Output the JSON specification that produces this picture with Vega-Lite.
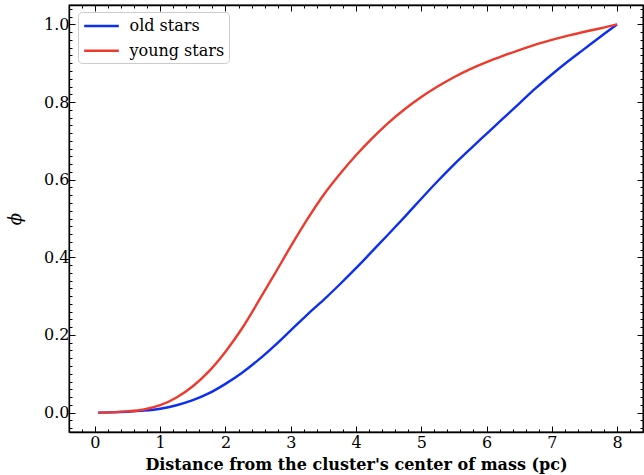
{
  "$schema": "https://vega.github.io/schema/vega-lite/v6.json",
  "width": 574,
  "height": 427,
  "autosize": {"type": "none"},
  "padding": {"left": 69, "top": 5, "right": 1, "bottom": 43},
  "background": "white",
  "config": {
    "view": {"stroke": "black", "strokeWidth": 1.3},
    "axis": {
      "labelFont": "DejaVu Serif",
      "labelFontSize": 16,
      "labelColor": "black",
      "titleFont": "DejaVu Serif",
      "titleColor": "black",
      "domainColor": "black",
      "domainWidth": 1.3,
      "tickColor": "black",
      "tickWidth": 1,
      "grid": false
    },
    "legend": {
      "labelFont": "DejaVu Serif",
      "labelFontSize": 16,
      "labelColor": "black"
    }
  },
  "data": {
    "values": [
      {"d": 0.05, "phi": 0, "pop": "old stars"},
      {"d": 0.25, "phi": 0.0005, "pop": "old stars"},
      {"d": 0.5, "phi": 0.002, "pop": "old stars"},
      {"d": 0.75, "phi": 0.005, "pop": "old stars"},
      {"d": 1.0, "phi": 0.010, "pop": "old stars"},
      {"d": 1.25, "phi": 0.019, "pop": "old stars"},
      {"d": 1.5, "phi": 0.032, "pop": "old stars"},
      {"d": 1.75, "phi": 0.050, "pop": "old stars"},
      {"d": 2.0, "phi": 0.074, "pop": "old stars"},
      {"d": 2.25, "phi": 0.102, "pop": "old stars"},
      {"d": 2.5, "phi": 0.135, "pop": "old stars"},
      {"d": 2.75, "phi": 0.172, "pop": "old stars"},
      {"d": 3.0, "phi": 0.212, "pop": "old stars"},
      {"d": 3.25, "phi": 0.252, "pop": "old stars"},
      {"d": 3.5, "phi": 0.290, "pop": "old stars"},
      {"d": 3.75, "phi": 0.330, "pop": "old stars"},
      {"d": 4.0, "phi": 0.372, "pop": "old stars"},
      {"d": 4.25, "phi": 0.416, "pop": "old stars"},
      {"d": 4.5, "phi": 0.460, "pop": "old stars"},
      {"d": 4.75, "phi": 0.505, "pop": "old stars"},
      {"d": 5.0, "phi": 0.551, "pop": "old stars"},
      {"d": 5.25, "phi": 0.596, "pop": "old stars"},
      {"d": 5.5, "phi": 0.639, "pop": "old stars"},
      {"d": 5.75, "phi": 0.679, "pop": "old stars"},
      {"d": 6.0, "phi": 0.718, "pop": "old stars"},
      {"d": 6.25, "phi": 0.757, "pop": "old stars"},
      {"d": 6.5, "phi": 0.796, "pop": "old stars"},
      {"d": 6.75, "phi": 0.835, "pop": "old stars"},
      {"d": 7.0, "phi": 0.871, "pop": "old stars"},
      {"d": 7.25, "phi": 0.905, "pop": "old stars"},
      {"d": 7.5, "phi": 0.937, "pop": "old stars"},
      {"d": 7.75, "phi": 0.969, "pop": "old stars"},
      {"d": 8.0, "phi": 1.0, "pop": "old stars"},
      {"d": 0.05, "phi": 0, "pop": "young stars"},
      {"d": 0.25, "phi": 0.0005, "pop": "young stars"},
      {"d": 0.5, "phi": 0.003, "pop": "young stars"},
      {"d": 0.75, "phi": 0.008, "pop": "young stars"},
      {"d": 1.0, "phi": 0.019, "pop": "young stars"},
      {"d": 1.25, "phi": 0.039, "pop": "young stars"},
      {"d": 1.5, "phi": 0.068, "pop": "young stars"},
      {"d": 1.75, "phi": 0.107, "pop": "young stars"},
      {"d": 2.0, "phi": 0.157, "pop": "young stars"},
      {"d": 2.25, "phi": 0.216, "pop": "young stars"},
      {"d": 2.5, "phi": 0.285, "pop": "young stars"},
      {"d": 2.75, "phi": 0.356, "pop": "young stars"},
      {"d": 3.0, "phi": 0.428, "pop": "young stars"},
      {"d": 3.25, "phi": 0.497, "pop": "young stars"},
      {"d": 3.5, "phi": 0.560, "pop": "young stars"},
      {"d": 3.75, "phi": 0.614, "pop": "young stars"},
      {"d": 4.0, "phi": 0.663, "pop": "young stars"},
      {"d": 4.25, "phi": 0.707, "pop": "young stars"},
      {"d": 4.5, "phi": 0.747, "pop": "young stars"},
      {"d": 4.75, "phi": 0.782, "pop": "young stars"},
      {"d": 5.0, "phi": 0.813, "pop": "young stars"},
      {"d": 5.25, "phi": 0.840, "pop": "young stars"},
      {"d": 5.5, "phi": 0.864, "pop": "young stars"},
      {"d": 5.75, "phi": 0.885, "pop": "young stars"},
      {"d": 6.0, "phi": 0.903, "pop": "young stars"},
      {"d": 6.25, "phi": 0.919, "pop": "young stars"},
      {"d": 6.5, "phi": 0.934, "pop": "young stars"},
      {"d": 6.75, "phi": 0.948, "pop": "young stars"},
      {"d": 7.0, "phi": 0.960, "pop": "young stars"},
      {"d": 7.25, "phi": 0.971, "pop": "young stars"},
      {"d": 7.5, "phi": 0.981, "pop": "young stars"},
      {"d": 7.75, "phi": 0.990, "pop": "young stars"},
      {"d": 8.0, "phi": 1.0, "pop": "young stars"}
    ]
  },
  "resolve": {"scale": {"x": "independent", "y": "independent"}, "axis": {"x": "independent", "y": "independent"}},
  "layer": [
    {
      "mark": {"type": "line", "strokeWidth": 2.4, "clip": true, "interpolate": "monotone"},
      "encoding": {
        "x": {
          "field": "d", "type": "quantitative",
          "scale": {"domain": [-0.3975, 8.3975], "nice": false, "zero": false},
          "axis": {
            "orient": "bottom",
            "title": "Distance from the cluster's center of mass (pc)",
            "titleFontSize": 16,
            "titleFontWeight": "bold",
            "titlePadding": 3,
            "values": [-0.2,0,0.2,0.4,0.6,0.8,1,1.2,1.4,1.6,1.8,2,2.2,2.4,2.6,2.8,3,3.2,3.4,3.6,3.8,4,4.2,4.4,4.6,4.8,5,5.2,5.4,5.6,5.8,6,6.2,6.4,6.6,6.8,7,7.2,7.4,7.6,7.8,8,8.2],
            "labelExpr": "abs(datum.value - round(datum.value)) < 1e-6 ? format(datum.value, 'd') : ''",
            "tickSize": {"condition": {"test": "abs(datum.value - round(datum.value)) < 1e-6", "value": -6}, "value": -3},
            "labelPadding": 8,
            "labelFlush": false,
            "labelOverlap": false
          }
        },
        "y": {
          "field": "phi", "type": "quantitative",
          "scale": {"domain": [-0.05, 1.05], "nice": false, "zero": false},
          "axis": {
            "orient": "left",
            "title": "ϕ",
            "titleFontSize": 18,
            "titleFontWeight": "normal",
            "titleFontStyle": "italic",
            "titleAngle": -90,
            "titlePadding": 19,
            "values": [-0.04,-0.02,0,0.02,0.04,0.06,0.08,0.1,0.12,0.14,0.16,0.18,0.2,0.22,0.24,0.26,0.28,0.3,0.32,0.34,0.36,0.38,0.4,0.42,0.44,0.46,0.48,0.5,0.52,0.54,0.56,0.58,0.6,0.62,0.64,0.66,0.68,0.7,0.72,0.74,0.76,0.78,0.8,0.82,0.84,0.86,0.88,0.9,0.92,0.94,0.96,0.98,1,1.02,1.04],
            "labelExpr": "abs(datum.value*5 - round(datum.value*5)) < 1e-6 ? format(datum.value, '.1f') : ''",
            "tickSize": {"condition": {"test": "abs(datum.value*5 - round(datum.value*5)) < 1e-6", "value": -6}, "value": -3},
            "labelPadding": 6,
            "labelFlush": false,
            "labelOverlap": false
          }
        },
        "color": {
          "field": "pop", "type": "nominal",
          "scale": {"domain": ["old stars", "young stars"], "range": ["#0c2ff0", "#ee3a2c"]},
          "legend": {
            "title": null,
            "orient": "none",
            "legendX": 9,
            "legendY": 7,
            "fillColor": "white",
            "strokeColor": "#cccccc",
            "cornerRadius": 4,
            "padding": 4,
            "symbolType": "M-2,0H2",
            "symbolStrokeWidth": 2.4,
            "symbolSize": 300,
            "symbolOffset": 9.5,
            "labelOffset": 18,
            "rowPadding": 6.7
          }
        }
      }
    },
    {
      "mark": {"type": "line", "opacity": 0},
      "encoding": {
        "x": {
          "field": "d", "type": "quantitative",
          "scale": {"domain": [-0.3975, 8.3975], "nice": false, "zero": false},
          "axis": {
            "orient": "top",
            "title": null,
            "labels": false,
            "values": [-0.2,0,0.2,0.4,0.6,0.8,1,1.2,1.4,1.6,1.8,2,2.2,2.4,2.6,2.8,3,3.2,3.4,3.6,3.8,4,4.2,4.4,4.6,4.8,5,5.2,5.4,5.6,5.8,6,6.2,6.4,6.6,6.8,7,7.2,7.4,7.6,7.8,8,8.2],
            "tickSize": {"condition": {"test": "abs(datum.value - round(datum.value)) < 1e-6", "value": -6}, "value": -3}
          }
        },
        "y": {
          "field": "phi", "type": "quantitative",
          "scale": {"domain": [-0.05, 1.05], "nice": false, "zero": false},
          "axis": {
            "orient": "right",
            "title": null,
            "labels": false,
            "values": [-0.04,-0.02,0,0.02,0.04,0.06,0.08,0.1,0.12,0.14,0.16,0.18,0.2,0.22,0.24,0.26,0.28,0.3,0.32,0.34,0.36,0.38,0.4,0.42,0.44,0.46,0.48,0.5,0.52,0.54,0.56,0.58,0.6,0.62,0.64,0.66,0.68,0.7,0.72,0.74,0.76,0.78,0.8,0.82,0.84,0.86,0.88,0.9,0.92,0.94,0.96,0.98,1,1.02,1.04],
            "tickSize": {"condition": {"test": "abs(datum.value*5 - round(datum.value*5)) < 1e-6", "value": -6}, "value": -3}
          }
        },
        "detail": {"field": "pop", "type": "nominal"}
      }
    }
  ]
}
